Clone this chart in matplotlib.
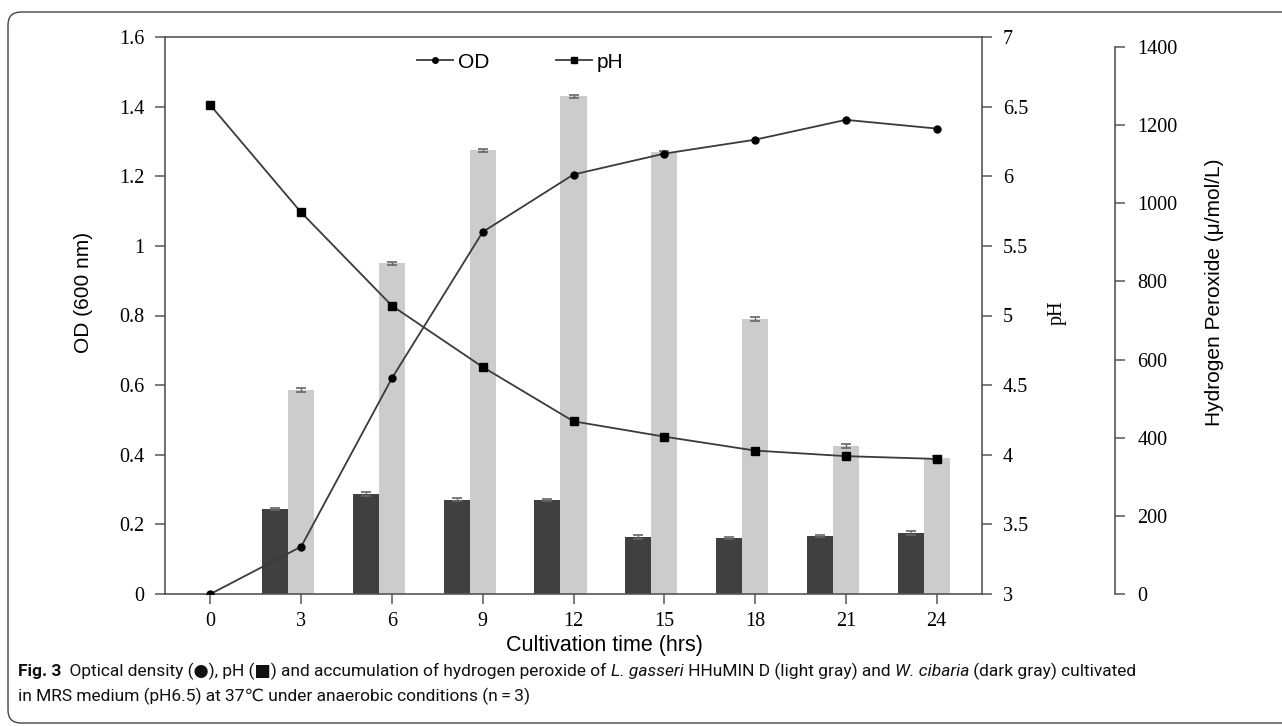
import matplotlib
matplotlib.use('Agg')
import matplotlib.pyplot as plt
from matplotlib.lines import Line2D
from matplotlib.patches import FancyBboxPatch
import numpy as np

# ---- data ----
hours = [0, 3, 6, 9, 12, 15, 18, 21, 24]
od = [0.0, 0.136, 0.62, 1.04, 1.205, 1.265, 1.305, 1.362, 1.337]
ph = [6.51, 5.74, 5.07, 4.63, 4.24, 4.13, 4.03, 3.99, 3.97]
bar_hours = [3, 6, 9, 12, 15, 18, 21, 24]
h2o2_gasseri = [522, 847, 1136, 1274, 1131, 704, 379, 348]
h2o2_cibaria = [218, 256, 241, 241, 146, 143, 149, 156]
err_gasseri = [4, 4, 4, 4, 4, 4, 6, 4]
err_cibaria = [3, 4, 4, 3, 4, 3, 3, 4]
od_ticks = [0, 0.2, 0.4, 0.6, 0.8, 1, 1.2, 1.4, 1.6]
ph_ticks = [3, 3.5, 4, 4.5, 5, 5.5, 6, 6.5, 7]
h2o2_ticks = [0, 200, 400, 600, 800, 1000, 1200, 1400]

W, H = 1282, 726
fig = plt.figure(figsize=(W / 100, H / 100), dpi=100)

L, R, B, T = 165, 982, 594, 37
pos = [L / W, 1 - B / H, (R - L) / W, (B - T) / H]

serif = 'Liberation Serif'
sans = 'Liberation Sans'
spine_c = '#555555'
line_c = '#3a3a3a'
tick_fs = 14.5
lab_fs = 15

ax3 = fig.add_axes(pos, zorder=1)   # bars / hydrogen peroxide
ax = fig.add_axes(pos, zorder=2)    # OD
ax2 = fig.add_axes(pos, zorder=3)   # pH
for a in (ax, ax2):
    a.patch.set_visible(False)

xlim = (-1.5, 25.5)
for a in (ax, ax2, ax3):
    a.set_xlim(*xlim)

bw = 0.86
hx = np.array(bar_hours, dtype=float)
ax3.bar(hx - bw, h2o2_cibaria, width=bw, align='center', color='#404040', zorder=2)
ax3.bar(hx, h2o2_gasseri, width=bw, align='center', color='#cccccc', zorder=2)
ax3.errorbar(hx - bw, h2o2_cibaria, yerr=err_cibaria, fmt='none', ecolor='#666666',
             elinewidth=1, capsize=3.5, capthick=1.2, zorder=3)
ax3.errorbar(hx, h2o2_gasseri, yerr=err_gasseri, fmt='none', ecolor='#666666',
             elinewidth=1, capsize=3.5, capthick=1.2, zorder=3)
top3 = 1400 * (B - T) / (B - 47)
ax3.set_ylim(0, top3)
for s in ('left', 'top', 'bottom'):
    ax3.spines[s].set_visible(False)
ax3.spines['right'].set_position(('axes', 1 + (1115 - R) / (R - L)))
ax3.spines['right'].set_bounds(0, 1400)
ax3.spines['right'].set_color(spine_c)
ax3.spines['right'].set_linewidth(1.2)
ax3.yaxis.tick_right()
ax3.set_yticks(h2o2_ticks)
ax3.set_xticks([])
ax3.tick_params(axis='y', direction='out', length=7, width=1.1, color=spine_c,
                labelsize=tick_fs, pad=9)
for t in ax3.get_yticklabels():
    t.set_fontfamily(serif)
ax3.set_ylabel('Hydrogen Peroxide (\u03bc/mol/L)', fontfamily=sans, fontsize=lab_fs)
ax3.yaxis.set_label_position('right')
ax3.yaxis.set_label_coords(1 + (1205 - R) / (R - L), (B - 292) / (B - T))

# OD axis
ax.plot(hours, od, color=line_c, lw=1.3, marker='o', ms=5, mfc='black', mec='black', zorder=5)
ax.set_ylim(0, 1.6)
ax.set_yticks(od_ticks)
ax.set_yticklabels(['0', '0.2', '0.4', '0.6', '0.8', '1', '1.2', '1.4', '1.6'])
ax.set_xticks(hours)
ax.set_xticklabels([str(h) for h in hours])
ax.tick_params(axis='both', direction='out', length=7, width=1.1, color=spine_c, labelsize=tick_fs)
ax.tick_params(axis='y', pad=8)
ax.tick_params(axis='x', pad=6)
for t in ax.get_yticklabels() + ax.get_xticklabels():
    t.set_fontfamily(serif)
ax.spines['right'].set_visible(False)
for s in ('left', 'top', 'bottom'):
    ax.spines[s].set_color(spine_c)
    ax.spines[s].set_linewidth(1.2)
ax.set_ylabel('OD (600 nm)', fontfamily=sans, fontsize=lab_fs)
ax.yaxis.set_label_coords((93 - L) / (R - L), (B - 292) / (B - T))
ax.set_xlabel('Cultivation time (hrs)', fontfamily=sans, fontsize=15.5)
ax.xaxis.set_label_coords((604 - L) / (R - L), -(635 - B) / (B - T))

# pH axis
ax2.plot(hours, ph, color=line_c, lw=1.3, marker='s', ms=5.5, mfc='black', mec='black', zorder=5)
ax2.set_ylim(3, 7)
ax2.set_yticks(ph_ticks)
ax2.set_yticklabels(['3', '3.5', '4', '4.5', '5', '5.5', '6', '6.5', '7'])
ax2.yaxis.tick_right()
ax2.set_xticks([])
ax2.tick_params(axis='y', direction='out', length=7, width=1.1, color=spine_c, labelsize=tick_fs, pad=8)
for t in ax2.get_yticklabels():
    t.set_fontfamily(serif)
for s in ('left', 'top', 'bottom'):
    ax2.spines[s].set_visible(False)
ax2.spines['right'].set_color(spine_c)
ax2.spines['right'].set_linewidth(1.2)
ax2.set_ylabel('pH', fontfamily=serif, fontsize=tick_fs)
ax2.yaxis.set_label_position('right')
ax2.yaxis.set_label_coords((1048 - L) / (R - L), (B - 313) / (B - T))

# legend
handles = [Line2D([], [], color=line_c, lw=1.3, marker='o', ms=4, mfc='black', mec='black'),
           Line2D([], [], color=line_c, lw=1.3, marker='s', ms=5, mfc='black', mec='black')]
leg = ax2.legend(handles, ['OD', 'pH'], ncol=2, loc='center', frameon=False,
                 bbox_to_anchor=((520 - L) / (R - L), (B - 62) / (B - T)),
                 handlelength=1.75, handletextpad=0.2, columnspacing=3.2,
                 prop={'family': sans, 'size': lab_fs})

# rounded frame
frame = FancyBboxPatch((8 / 100, 3 / 100), (1300 - 8) / 100, (714 - 3) / 100,
                       boxstyle='round,pad=0,rounding_size=0.13',
                       transform=fig.dpi_scale_trans, fill=False,
                       edgecolor='#444444', lw=1.0, zorder=0)
fig.add_artist(frame)

# caption
cap_fam = ['Roboto', 'DejaVu Sans']
line1 = [('Fig. 3', 'bold', 'normal'),
         ('  Optical density (\u25cf), pH (\u25a0) and accumulation of hydrogen peroxide of ', 'normal', 'normal'),
         ('L. gasseri', 'normal', 'italic'),
         (' HHuMIN D (light gray) and ', 'normal', 'normal'),
         ('W. cibaria', 'normal', 'italic'),
         (' (dark gray) cultivated', 'normal', 'normal')]
line2 = [('in MRS medium (pH6.5) at 37\u2103 under anaerobic conditions (n\u2009=\u20093)', 'normal', 'normal')]

fig.canvas.draw()
renderer = fig.canvas.get_renderer()

def draw_line(pieces, x0, ybase, size):
    x = x0
    for txt, wt, st in pieces:
        t = fig.text(x / W, 1 - ybase / H, txt, fontsize=size, fontweight=wt, fontstyle=st,
                     family=cap_fam, color='#111111', va='baseline', ha='left')
        bb = t.get_window_extent(renderer=renderer)
        x += bb.width
    return x

measured = draw_line(line1, 0, -100, 12)
for t in list(fig.texts):
    t.remove()
size = 12 * (1132 - 18) / measured
draw_line(line1, 18, 676, size)
draw_line(line2, 18, 701, size)

fig.savefig('out.png', dpi=100)
